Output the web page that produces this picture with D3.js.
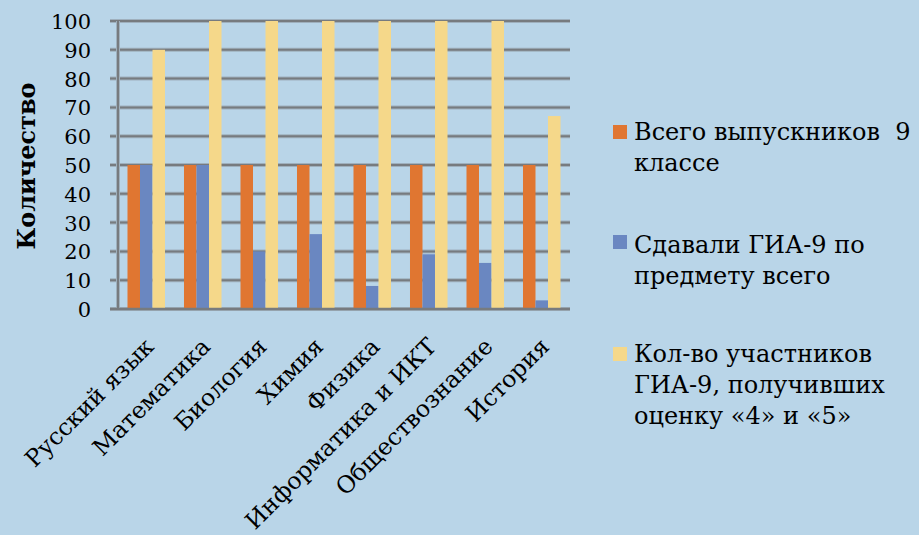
<!DOCTYPE html>
<html>
<head>
<meta charset="utf-8">
<script src="https://cdn.jsdelivr.net/npm/d3@7/dist/d3.min.js"></script>
<style>
  html, body { margin: 0; padding: 0; background: #b9d5e8; }
  svg { display: block; }
  svg text { font-family: "DejaVu Serif", serif; }
</style>
</head>
<body>
<svg id="chart" width="919" height="535"></svg>
<script>
const categories = ["Русский язык", "Математика", "Биология", "Химия", "Физика", "Информатика и ИКТ", "Обществознание", "История"];
const seriesNames = ["Всего выпускников   9 классе", "Сдавали ГИА-9 по предмету всего", "Кол-во участников ГИА-9, получивших оценку «4» и «5»"];
const legendLines = [["Всего выпускников  9", "классе"], ["Сдавали ГИА-9 по", "предмету всего"], ["Кол-во участников", "ГИА-9, получивших", "оценку «4» и «5»"]];
const totalGrads = [50, 50, 50, 50, 50, 50, 50, 50];
const tookExam = [50, 50, 20, 26, 8, 19, 16, 3];
const got4and5 = [90, 100, 100, 100, 100, 100, 100, 67];
const yTicks = [0, 10, 20, 30, 40, 50, 60, 70, 80, 90, 100];
const yTitle = "Количество";

(function () {
const colors = ["#e07631", "#6a87c1", "#f5d88a"];
const series = [totalGrads, tookExam, got4and5];

const svg = d3.select("#chart");
const pLeft = 118, pRight = 570, pTop = 21, pBottom = 309;
const serif = '"DejaVu Serif", serif';

const x = d3.scaleBand().domain(categories).range([pLeft, pRight]).paddingInner(0.336).paddingOuter(0.168);
const xs = d3.scaleBand().domain(d3.range(series.length)).range([0, x.bandwidth()]);
const y = d3.scaleLinear().domain([0, 100]).range([pBottom, pTop]);

// gridlines
const grid = svg.append("g");
grid.selectAll("line.halo").data(yTicks).join("line").attr("class", "halo")
  .attr("x1", pLeft - 8).attr("x2", pRight)
  .attr("y1", d => y(d)).attr("y2", d => y(d))
  .attr("stroke", "#9fb0bd").attr("stroke-width", 4);
grid.selectAll("line.g").data(yTicks).join("line").attr("class", "g")
  .attr("x1", pLeft - 8).attr("x2", pRight)
  .attr("y1", d => y(d)).attr("y2", d => y(d))
  .attr("stroke", "#777b7f").attr("stroke-width", 2);
// vertical axis line
svg.append("line").attr("x1", pLeft).attr("x2", pLeft).attr("y1", y(100)).attr("y2", y(0))
  .attr("stroke", "#9fb0bd").attr("stroke-width", 4);
svg.append("line").attr("x1", pLeft).attr("x2", pLeft).attr("y1", y(100)).attr("y2", y(0))
  .attr("stroke", "#777b7f").attr("stroke-width", 2);

// bars
series.forEach((vals, si) => {
  svg.append("g").selectAll("rect").data(vals).join("rect")
    .attr("x", (d, i) => x(categories[i]) + xs(si))
    .attr("width", xs.bandwidth())
    .attr("y", d => y(d))
    .attr("height", d => y(0) - y(d))
    .attr("fill", colors[si]);
});

// baseline over bars
svg.append("line").attr("x1", pLeft - 8).attr("x2", pRight).attr("y1", y(0)).attr("y2", y(0))
  .attr("stroke", "#777b7f").attr("stroke-width", 2.5);

// y axis labels
const yAxis = d3.axisLeft(y).tickValues(yTicks).tickSize(0).tickPadding(0);
const ya = svg.append("g").attr("transform", `translate(${pLeft - 27},0)`).call(yAxis);
ya.select(".domain").remove();
ya.selectAll("text").style("font-family", serif).style("font-size", "21px").attr("fill", "#000").attr("dy", "0.36em");

// x axis labels
const xAxis = d3.axisBottom(x).tickSize(0).tickPadding(0);
const xa = svg.append("g").attr("transform", `translate(0,${pBottom})`).call(xAxis);
xa.select(".domain").remove();
xa.selectAll("text")
  .style("font-family", serif).style("font-size", "23.5px").attr("fill", "#000")
  .attr("text-anchor", "end").attr("dy", 0).attr("y", 0)
  .attr("transform", "translate(9,39) rotate(-45)");

// y title
svg.append("text")
  .attr("transform", "translate(35,166) rotate(-90)")
  .attr("text-anchor", "middle")
  .style("font-family", serif).style("font-weight", "bold").style("font-size", "25px")
  .attr("textLength", 167).attr("lengthAdjust", "spacingAndGlyphs")
  .text(yTitle);

// legend
const legendTop = [125, 235, 347];
const legendBase = [140, 253, 362];
const lg = svg.append("g");
seriesNames.forEach((name, i) => {
  lg.append("rect").attr("x", 613).attr("y", legendTop[i]).attr("width", 14).attr("height", 14).attr("fill", colors[i]);
  const t = lg.append("text").style("font-family", serif).style("font-size", "24px").attr("fill", "#000")
    .style("white-space", "pre");
  legendLines[i].forEach((ln, j) => {
    t.append("tspan").attr("x", 634).attr("y", legendBase[i] + j * 31).text(ln);
  });
});
})();
</script>
</body>
</html>
